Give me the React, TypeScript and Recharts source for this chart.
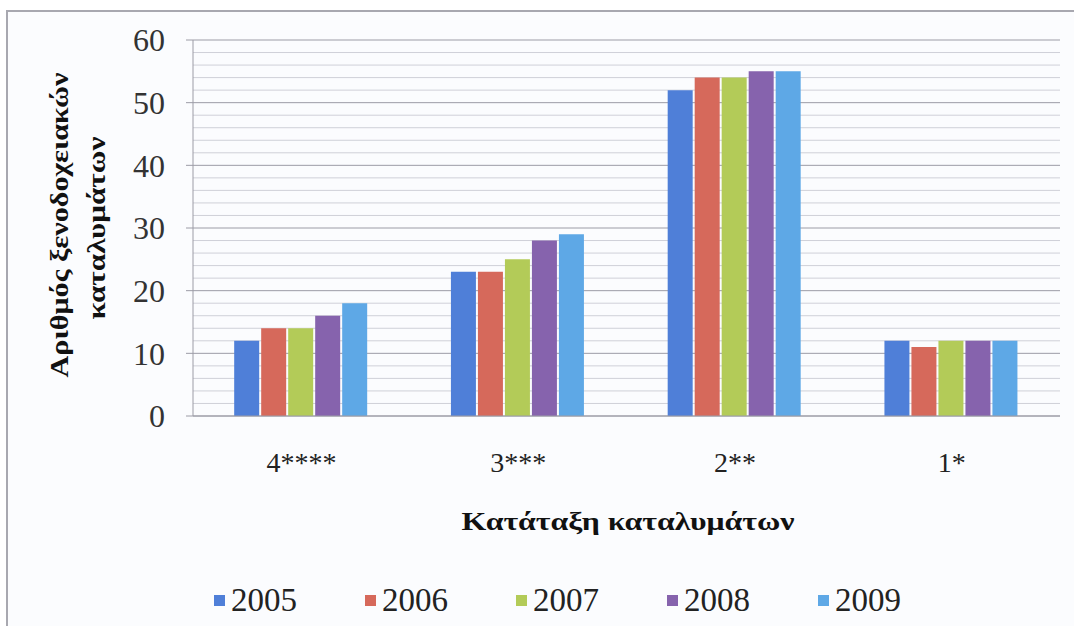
import React from "react";
import { BarChart, Bar, XAxis, YAxis, CartesianGrid } from "recharts";

// Κατηγορίες αστέρων και αριθμός καταλυμάτων ανά έτος
const CATEGORIES = ["4****", "3***", "2**", "1*"];
const YEARS = ["2005", "2006", "2007", "2008", "2009"];
const V2005 = [12, 23, 52, 12];
const V2006 = [14, 23, 54, 11];
const V2007 = [14, 25, 54, 12];
const V2008 = [16, 28, 55, 12];
const V2009 = [18, 29, 55, 12];
const SERIES = [V2005, V2006, V2007, V2008, V2009];
const COLORS = ["#4f7fd8", "#d6695b", "#b3cb58", "#8663ad", "#5ea8e6"];

const MAJOR_TICKS = [0, 10, 20, 30, 40, 50, 60];
const MINOR_TICKS = [2, 4, 6, 8, 12, 14, 16, 18, 22, 24, 26, 28, 32, 34, 36, 38, 42, 44, 46, 48, 52, 54, 56, 58];

const FONT = "'Liberation Serif', 'Times New Roman', serif";

const data = CATEGORIES.map((cat, i) => {
  const row: Record<string, string | number> = { cat };
  YEARS.forEach((y, s) => {
    row[y] = SERIES[s][i];
  });
  return row;
});

const YLabel = () => (
  <g fontFamily={FONT} fontWeight="bold" fontSize={25} fill="#111">
    <text x={68} y={225} textAnchor="middle" transform="rotate(-90 68 225)" textLength={305} lengthAdjust="spacingAndGlyphs">
      Αριθμός ξενοδοχειακών
    </text>
    <text x={105} y={228} textAnchor="middle" transform="rotate(-90 105 228)" textLength={183} lengthAdjust="spacingAndGlyphs">
      καταλυμάτων
    </text>
  </g>
);

const XLabel = () => (
  <text x={628} y={530} textAnchor="middle" fontFamily={FONT} fontWeight="bold" fontSize={26} fill="#111" textLength={333} lengthAdjust="spacingAndGlyphs">
    Κατάταξη καταλυμάτων
  </text>
);

export default function App() {
  return (
    <div style={{ position: "absolute", left: 0, top: 0, width: 1074, height: 626, background: "#fff", overflow: "hidden" }}>
      {/* chart frame */}
      <div
        style={{
          position: "absolute",
          left: 6,
          top: 10,
          width: 1080,
          height: 630,
          borderLeft: "2px solid #a8a8b0",
          borderTop: "2px solid #a8a8b0",
          background: "#fbfcfe",
        }}
      />
      <div style={{ position: "absolute", left: 0, top: 0 }}>
        <BarChart
          width={1074}
          height={626}
          data={data}
          margin={{ top: 40, right: 14, bottom: 150, left: 133 }}
          barCategoryGap="19%"
          barGap={2}
        >
          <CartesianGrid horizontalValues={MINOR_TICKS} vertical={false} stroke="#cfd0d8" strokeWidth={1} />
          <CartesianGrid horizontalValues={MAJOR_TICKS} vertical={false} stroke="#9c9ca6" strokeWidth={1} />
          <YAxis
            domain={[0, 60]}
            ticks={MAJOR_TICKS}
            width={60}
            interval={0}
            tickSize={7}
            tickMargin={21}
            axisLine={{ stroke: "#9c9ca6" }}
            tickLine={{ stroke: "#9c9ca6" }}
            tick={{ fontFamily: FONT, fontSize: 32, fill: "#333" }}
            label={<YLabel />}
          />
          <XAxis
            dataKey="cat"
            height={60}
            tickSize={0}
            tickMargin={36}
            axisLine={{ stroke: "#9c9ca6" }}
            tickLine={false}
            tick={{ fontFamily: FONT, fontSize: 28, fill: "#222" }}
            label={<XLabel />}
          />
          {YEARS.map((y, i) => (
            <Bar key={y} dataKey={y} fill={COLORS[i]} isAnimationActive={false} />
          ))}
        </BarChart>
      </div>
      {/* legend */}
      <div
        style={{
          position: "absolute",
          left: 214,
          top: 582,
          display: "flex",
          alignItems: "center",
          fontFamily: FONT,
          fontSize: 33,
          color: "#222",
        }}
      >
        {YEARS.map((y, i) => (
          <div key={y} style={{ display: "flex", alignItems: "center", width: 151 }}>
            <span style={{ display: "inline-block", width: 11, height: 11, background: COLORS[i], marginRight: 6 }} />
            <span>{y}</span>
          </div>
        ))}
      </div>
    </div>
  );
}
